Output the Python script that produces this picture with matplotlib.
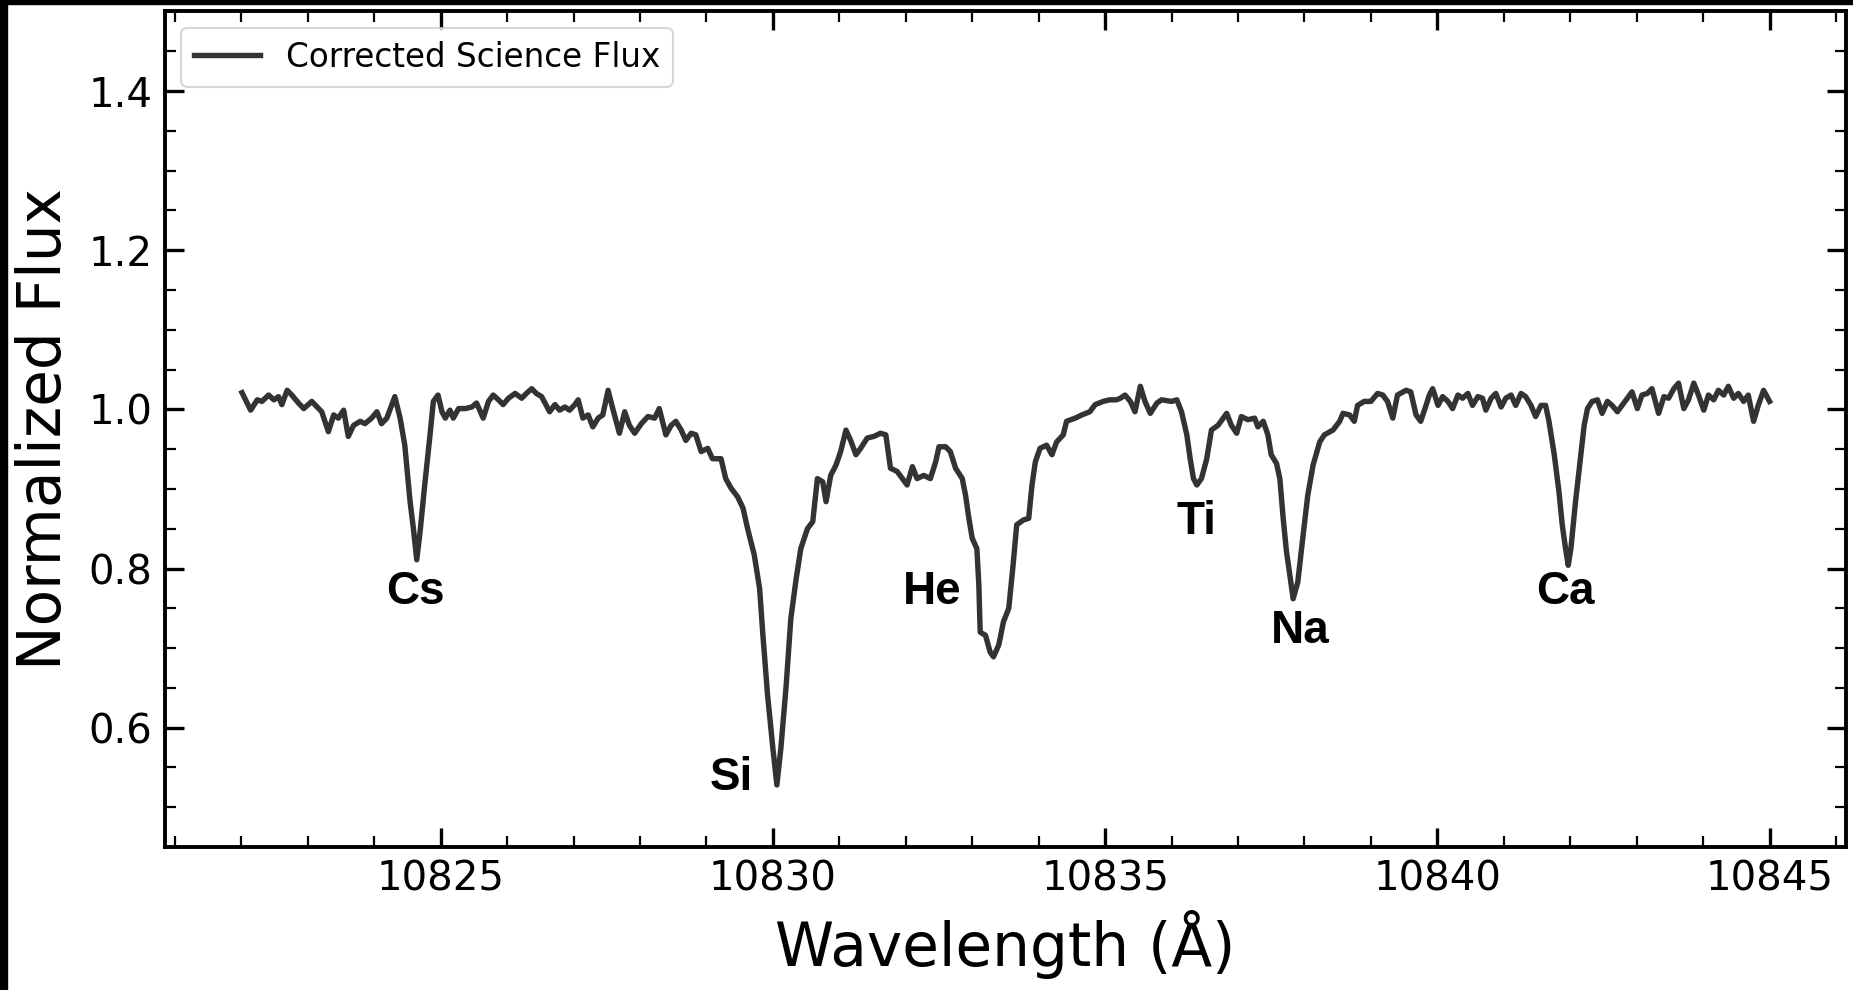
import matplotlib
matplotlib.use("Agg")
import matplotlib.pyplot as plt
from matplotlib.patches import Rectangle
from matplotlib.ticker import MultipleLocator

# spectrum (wavelength in Angstrom, normalized flux)
wave = [
    10822.01, 10822.14, 10822.24, 10822.31, 10822.41, 10822.49, 10822.56, 10822.61, 10822.69, 10822.76,
    10822.86, 10822.94, 10823.06, 10823.14, 10823.21, 10823.31, 10823.39, 10823.46, 10823.54, 10823.61,
    10823.69, 10823.79, 10823.86, 10823.96, 10824.04, 10824.11, 10824.19, 10824.31, 10824.39, 10824.46,
    10824.54, 10824.59, 10824.64, 10824.69, 10824.76, 10824.84, 10824.89, 10824.96, 10825.02, 10825.07,
    10825.14, 10825.19, 10825.27, 10825.37, 10825.47, 10825.54, 10825.64, 10825.72, 10825.79, 10825.87,
    10825.94, 10826.02, 10826.12, 10826.22, 10826.29, 10826.37, 10826.44,
    10826.52, 10826.64, 10826.72, 10826.79, 10826.87, 10826.94, 10827.02, 10827.07, 10827.14, 10827.22,
    10827.29, 10827.37, 10827.44, 10827.52, 10827.59, 10827.69, 10827.77, 10827.84, 10827.92, 10828.02,
    10828.12, 10828.22, 10828.29, 10828.39, 10828.47, 10828.54, 10828.62, 10828.69, 10828.77, 10828.84,
    10828.92, 10829.02, 10829.09, 10829.22, 10829.29, 10829.37, 10829.47, 10829.55, 10829.62, 10829.72,
    10829.80, 10829.85, 10829.92, 10830.00, 10830.06, 10830.12, 10830.20, 10830.27, 10830.35, 10830.42,
    10830.52, 10830.60, 10830.67, 10830.75, 10830.80, 10830.87, 10830.95,
    10831.02, 10831.10, 10831.17, 10831.25, 10831.32, 10831.42, 10831.52, 10831.62, 10831.70, 10831.77,
    10831.87, 10831.95, 10832.02, 10832.10, 10832.17, 10832.27, 10832.37, 10832.45, 10832.50, 10832.60,
    10832.67, 10832.75, 10832.85, 10832.90, 10832.95, 10833.00, 10833.07, 10833.10, 10833.12, 10833.20,
    10833.27, 10833.32, 10833.40, 10833.47, 10833.55, 10833.61, 10833.67, 10833.77, 10833.85, 10833.90,
    10833.95, 10834.02, 10834.12, 10834.20, 10834.27, 10834.37, 10834.42, 10834.55, 10834.65, 10834.77,
    10834.85, 10834.97, 10835.07, 10835.17,
    10835.23, 10835.30, 10835.38, 10835.45, 10835.53, 10835.60, 10835.68, 10835.78, 10835.85, 10836.00,
    10836.08, 10836.15, 10836.23, 10836.28, 10836.33, 10836.38, 10836.45, 10836.53, 10836.60, 10836.70,
    10836.83, 10836.90, 10836.98, 10837.05, 10837.15, 10837.25, 10837.30, 10837.38, 10837.45, 10837.50,
    10837.58, 10837.63, 10837.68, 10837.73, 10837.78, 10837.83, 10837.90, 10837.98, 10838.05, 10838.13,
    10838.23, 10838.30, 10838.43, 10838.53, 10838.58, 10838.68, 10838.75, 10838.80, 10838.90, 10839.00,
    10839.10, 10839.18, 10839.25, 10839.33, 10839.40, 10839.53, 10839.60, 10839.68, 10839.75, 10839.83,
    10839.88, 10839.93, 10840.01, 10840.08, 10840.16, 10840.23, 10840.31, 10840.38, 10840.46, 10840.53,
    10840.61, 10840.68, 10840.73, 10840.81, 10840.88, 10840.96, 10841.03, 10841.11, 10841.18, 10841.26,
    10841.33, 10841.41, 10841.48, 10841.56, 10841.63, 10841.68, 10841.76, 10841.83, 10841.88, 10841.93,
    10841.97, 10842.01, 10842.08, 10842.16, 10842.21, 10842.26, 10842.33, 10842.41, 10842.48, 10842.56,
    10842.63, 10842.71, 10842.78, 10842.86, 10842.93, 10843.01, 10843.08, 10843.16, 10843.23, 10843.33,
    10843.41, 10843.48, 10843.56, 10843.63, 10843.71, 10843.78, 10843.86, 10843.93, 10844.01, 10844.08,
    10844.16, 10844.23, 10844.31, 10844.38, 10844.46, 10844.53, 10844.61, 10844.68, 10844.76, 10844.83,
    10844.91, 10845.00,
]
flux = [
    1.021, 0.999, 1.012, 1.010, 1.018, 1.012, 1.016, 1.006, 1.024, 1.018,
    1.008, 1.001, 1.010, 1.003, 0.997, 0.972, 0.993, 0.989, 0.999, 0.966,
    0.980, 0.985, 0.982, 0.989, 0.997, 0.982, 0.989, 1.016, 0.989, 0.955,
    0.884, 0.850, 0.811, 0.846, 0.905, 0.968, 1.010, 1.018, 0.997, 0.989,
    0.999, 0.989, 1.001, 1.001, 1.003, 1.008, 0.989, 1.010, 1.018, 1.012,
    1.006, 1.014, 1.020, 1.014, 1.020, 1.026, 1.020,
    1.016, 0.997, 1.006, 0.999, 1.003, 0.999, 1.006, 1.012, 0.989, 0.993,
    0.978, 0.989, 0.993, 1.024, 1.001, 0.970, 0.997, 0.980, 0.970, 0.982,
    0.991, 0.989, 1.001, 0.968, 0.980, 0.985, 0.974, 0.961, 0.970, 0.968,
    0.947, 0.951, 0.938, 0.938, 0.913, 0.901, 0.890, 0.876, 0.850, 0.817,
    0.775, 0.716, 0.641, 0.574, 0.528, 0.574, 0.653, 0.737, 0.787, 0.825,
    0.850, 0.859, 0.913, 0.909, 0.884, 0.917, 0.930,
    0.947, 0.974, 0.961, 0.943, 0.951, 0.964, 0.966, 0.970, 0.968, 0.926,
    0.922, 0.913, 0.905, 0.928, 0.913, 0.917, 0.913, 0.934, 0.953, 0.953,
    0.947, 0.926, 0.913, 0.892, 0.863, 0.838, 0.825, 0.779, 0.720, 0.716,
    0.695, 0.689, 0.704, 0.733, 0.750, 0.800, 0.855, 0.861, 0.863, 0.905,
    0.934, 0.951, 0.955, 0.943, 0.959, 0.968, 0.985, 0.989, 0.993, 0.997,
    1.006, 1.010, 1.012, 1.012,
    1.014, 1.018, 1.010, 0.997, 1.029, 1.010, 0.995, 1.008, 1.012, 1.010,
    1.012, 0.997, 0.968, 0.938, 0.913, 0.905, 0.913, 0.938, 0.974, 0.980,
    0.995, 0.980, 0.970, 0.991, 0.987, 0.989, 0.978, 0.985, 0.968, 0.943,
    0.932, 0.913, 0.863, 0.821, 0.792, 0.762, 0.783, 0.842, 0.892, 0.930,
    0.959, 0.968, 0.974, 0.985, 0.995, 0.993, 0.985, 1.005, 1.010, 1.010,
    1.020, 1.018, 1.010, 0.989, 1.018, 1.024, 1.022, 0.993, 0.985, 1.005,
    1.018, 1.026, 1.005, 1.016, 1.010, 1.001, 1.018, 1.014, 1.020, 1.005,
    1.016, 1.014, 0.999, 1.014, 1.020, 1.003, 1.014, 1.018, 1.005, 1.020,
    1.016, 1.005, 0.991, 1.005, 1.005, 0.985, 0.943, 0.897, 0.855, 0.825,
    0.804, 0.825, 0.884, 0.943, 0.980, 1.001, 1.010, 1.012, 0.995, 1.010,
    1.005, 0.997, 1.005, 1.014, 1.022, 1.001, 1.018, 1.020, 1.026, 0.995,
    1.016, 1.014, 1.026, 1.033, 1.001, 1.012, 1.033, 1.018, 0.999, 1.018,
    1.012, 1.024, 1.018, 1.029, 1.014, 1.020, 1.010, 1.018, 0.985, 1.005,
    1.024, 1.010,
]

# line identifications and where their labels sit
elements = ["Cs", "Si", "He", "Ti", "Na", "Ca"]
label_wave = [10824.62, 10829.37, 10832.40, 10836.37, 10837.93, 10841.92]
label_flux = [0.771, 0.537, 0.771, 0.859, 0.721, 0.771]

fig = plt.figure(figsize=(18.53, 9.90), dpi=100)
ax = fig.add_axes([0.089, 0.1444, 0.9072, 0.844])

ax.plot(wave, flux, color="#333333", lw=3.9, solid_joinstyle="round",
        label="Corrected Science Flux")

for el, lw_, lf in zip(elements, label_wave, label_flux):
    ax.text(lw_, lf, el, ha="center", va="center", fontsize=33,
            fontweight="bold", family="Liberation Sans")

ax.set_xlim(10820.85, 10846.15)
ax.set_ylim(0.45, 1.5)
ax.xaxis.set_major_locator(MultipleLocator(5))
ax.xaxis.set_minor_locator(MultipleLocator(1))
ax.yaxis.set_major_locator(MultipleLocator(0.2))
ax.yaxis.set_minor_locator(MultipleLocator(0.05))
ax.tick_params(which="both", direction="in", top=True, right=True)
ax.tick_params(which="major", length=14, width=2.4, labelsize=29, pad=9)
ax.tick_params(which="minor", length=8, width=1.6)
for s in ax.spines.values():
    s.set_linewidth(2.8)

ax.set_xlabel("Wavelength (Å)", fontsize=43)
ax.set_ylabel("Normalized Flux", fontsize=43)
ax.xaxis.set_label_coords(0.5, -0.075)
ax.yaxis.set_label_coords(-0.054, 0.5)

leg = ax.legend(loc="upper left", fontsize=23.5, borderaxespad=0.5, fancybox=True)
leg.get_frame().set_edgecolor("#cccccc")
leg.get_frame().set_linewidth(1.5)

# dark strips on the left and top edges of the source image
fig.patches.append(Rectangle((0, 0), 7 / 1853, 1, transform=fig.transFigure,
                             color="black", zorder=10))
fig.patches.append(Rectangle((0, 1 - 4 / 990), 1, 4 / 990, transform=fig.transFigure,
                             color="black", zorder=10))

fig.savefig("out.png", dpi=100)
